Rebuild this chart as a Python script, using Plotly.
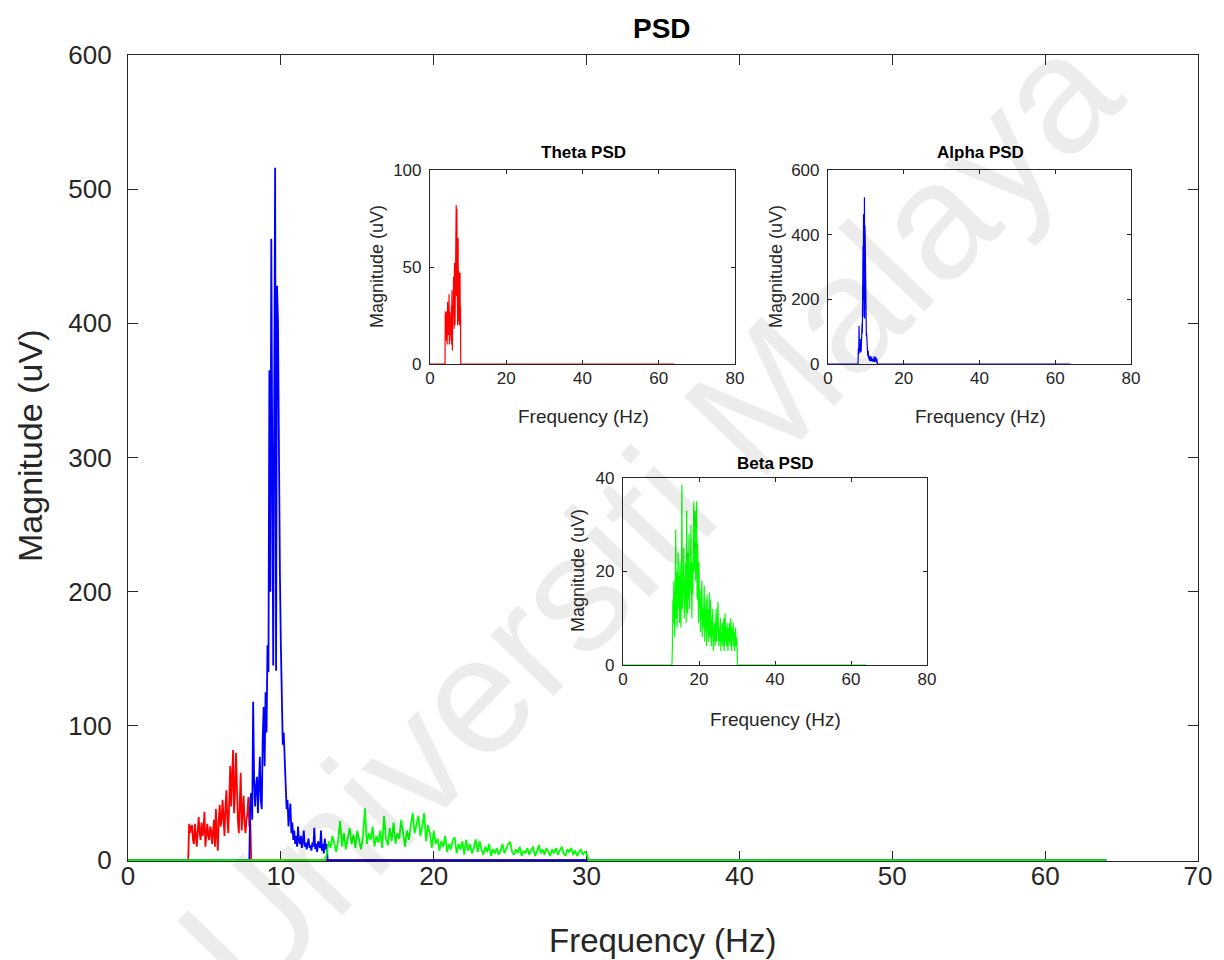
import plotly.graph_objects as go

W, H = 1224, 960

# ---------------- data ----------------
f_max = 64.0
theta_start, theta_step = 4.0, 0.0625
alpha_start, alpha_step = 8.0, 0.0625
beta_start, beta_step = 13.0, 0.125

theta_vals = [27, 20, 25, 26, 15, 12, 27, 18, 10, 22, 32, 20, 15, 28, 18, 22,
              36, 10, 20, 27, 18, 15, 25, 22, 12, 20, 30, 10, 38, 20, 7, 30,
              41, 25, 30, 45, 28, 18, 40, 52, 30, 20, 45, 70, 40, 60, 82, 35,
              50, 80, 45, 30, 20, 55, 65, 22, 35, 48, 28, 20, 30, 35, 47, 25, 30]

alpha_vals = [45, 50, 30, 118, 60, 40, 55, 62, 35, 50, 77, 45, 38, 90, 114, 70,
              125, 95, 160, 140, 365, 200, 463, 300, 145, 330, 516, 141, 428, 402, 250, 214,
              160, 115, 86, 95, 70, 45, 38, 45, 25, 35, 42, 20, 28, 15, 22, 12,
              18, 10, 25, 14, 12, 18, 9, 14, 22, 10, 13, 8, 12, 16, 9, 11,
              7, 13, 10, 24, 8, 12, 6, 14, 11, 9, 22, 7, 12, 5, 16, 8, 12]

beta_vals = [4, 14, 9, 18, 12, 6, 15, 29, 10, 20, 8, 16, 24, 12, 19, 9,
             22, 14, 8, 18, 38.5, 12, 20, 15, 25, 10, 18, 13, 22, 9, 33, 16,
             11, 24, 14, 28, 12, 20, 16, 30, 18, 10, 22, 15, 26, 35, 20, 28,
             33, 18, 25, 35, 14, 26, 20, 9, 22, 12, 16, 7, 14, 10, 18, 6,
             12, 8, 15, 17, 5, 12, 8, 14, 4, 15, 7, 12, 5, 9, 15.5, 6,
             14, 8, 4, 10, 6, 12, 3, 8, 5, 9, 4, 7, 12, 5, 8, 12,
             13.5, 6, 4, 8, 5, 10, 3, 7, 5, 9, 4, 7, 10, 3, 6, 11,
             5, 8, 4, 9, 6, 3, 8, 5, 9, 4, 7, 10, 5, 3, 8, 6,
             9, 4, 7, 3, 6, 8, 4, 6, 5]

main_xticks = [0, 10, 20, 30, 40, 50, 60, 70]
main_yticks = [0, 100, 200, 300, 400, 500, 600]
inset_xticks = [0, 20, 40, 60, 80]
theta_yticks = [0, 50, 100]
alpha_yticks = [0, 200, 400, 600]
beta_yticks = [0, 20, 40]

RED, BLUE, GREEN = "#ff0000", "#0000ff", "#00ff00"
AX = "#262626"
FONT = "Liberation Sans, Arial, sans-serif"


def band(start, step, vals):
    f = [start + i * step for i in range(len(vals))]
    x = [0.0, start - step] + f + [f[-1] + step, f_max]
    y = [0.0, 0.0] + list(vals) + [0.0, 0.0]
    return x, y


def px(xp):
    return xp / W


def py(yp):
    return 1 - yp / H


tx, ty = band(theta_start, theta_step, theta_vals)
ax_, ay_ = band(alpha_start, alpha_step, alpha_vals)
bx, by = band(beta_start, beta_step, beta_vals)

fig = go.Figure()
# main axes
fig.add_trace(go.Scatter(x=tx, y=ty, mode="lines", line=dict(color=RED, width=1.8), xaxis="x", yaxis="y"))
fig.add_trace(go.Scatter(x=ax_, y=ay_, mode="lines", line=dict(color=BLUE, width=1.8), xaxis="x", yaxis="y"))
fig.add_trace(go.Scatter(x=bx, y=by, mode="lines", line=dict(color=GREEN, width=1.8), xaxis="x", yaxis="y"))
# insets
fig.add_trace(go.Scatter(x=tx, y=ty, mode="lines", line=dict(color=RED, width=1.2), xaxis="x2", yaxis="y2"))
fig.add_trace(go.Scatter(x=ax_, y=ay_, mode="lines", line=dict(color=BLUE, width=1.2), xaxis="x3", yaxis="y3"))
fig.add_trace(go.Scatter(x=bx, y=by, mode="lines", line=dict(color=GREEN, width=1.2), xaxis="x4", yaxis="y4"))


def axis(domain, rng, ticks, anchor, size, ticklen, standoff):
    return dict(domain=domain, range=rng, tickmode="array", tickvals=ticks,
                ticktext=[str(t) for t in ticks], anchor=anchor, showgrid=False,
                zeroline=False, showline=True, linecolor=AX, linewidth=1.2,
                mirror="allticks", ticks="inside", ticklen=ticklen, tickwidth=1.2,
                tickcolor=AX, tickfont=dict(family=FONT, size=size, color=AX),
                ticklabelstandoff=standoff, fixedrange=True, automargin=False,
                layer="below traces")


layout = dict(
    width=W, height=H, margin=dict(l=0, r=0, t=0, b=0, autoexpand=False),
    paper_bgcolor="white", plot_bgcolor="white", showlegend=False,
    xaxis=axis([px(128), px(1198)], [0, 70], main_xticks, "y", 26, 10, -8),
    yaxis=axis([py(861), py(55)], [-0.7, 600], main_yticks, "x", 26, 10, 10),
    xaxis2=axis([px(430), px(735)], [0, 80], inset_xticks, "y2", 17, 4, -2),
    yaxis2=axis([py(364), py(170)], [0, 100], theta_yticks, "x2", 17, 4, 4),
    xaxis3=axis([px(828), px(1131)], [0, 80], inset_xticks, "y3", 17, 4, -2),
    yaxis3=axis([py(364), py(170)], [0, 600], alpha_yticks, "x3", 17, 4, 4),
    xaxis4=axis([px(623), px(927)], [0, 80], inset_xticks, "y4", 17, 4, -2),
    yaxis4=axis([py(665), py(478)], [0, 40], beta_yticks, "x4", 17, 4, 4),
)
fig.update_layout(**layout)


def ann(text, xp, yp, size, bold=False, angle=0, color="#000000"):
    fig.add_annotation(text=f"<b>{text}</b>" if bold else text, x=px(xp), y=py(yp),
                       xref="paper", yref="paper", showarrow=False, textangle=angle,
                       xanchor="center", yanchor="middle",
                       font=dict(family=FONT, size=size, color=color))


# watermark
ann("Universiti Malaya", 648, 515, 166, angle=-46, color="rgba(0,0,0,0.075)")

ann("PSD", 662, 28, 28, bold=True)
ann("Frequency (Hz)", 662, 940, 33, color=AX)
ann("Magnitude (uV)", 30, 446, 34, angle=-90, color=AX)

ann("Theta PSD", 583, 152, 17, bold=True)
ann("Alpha PSD", 980, 152, 17, bold=True)
ann("Beta PSD", 775, 463, 17, bold=True)

ann("Frequency (Hz)", 583, 417, 19, color=AX)
ann("Frequency (Hz)", 980, 417, 19, color=AX)
ann("Frequency (Hz)", 775, 719, 19, color=AX)

ann("Magnitude (uV)", 377, 267, 18, angle=-90, color=AX)
ann("Magnitude (uV)", 776, 267, 18, angle=-90, color=AX)
ann("Magnitude (uV)", 578, 571, 18, angle=-90, color=AX)

fig.write_html("out.html")
